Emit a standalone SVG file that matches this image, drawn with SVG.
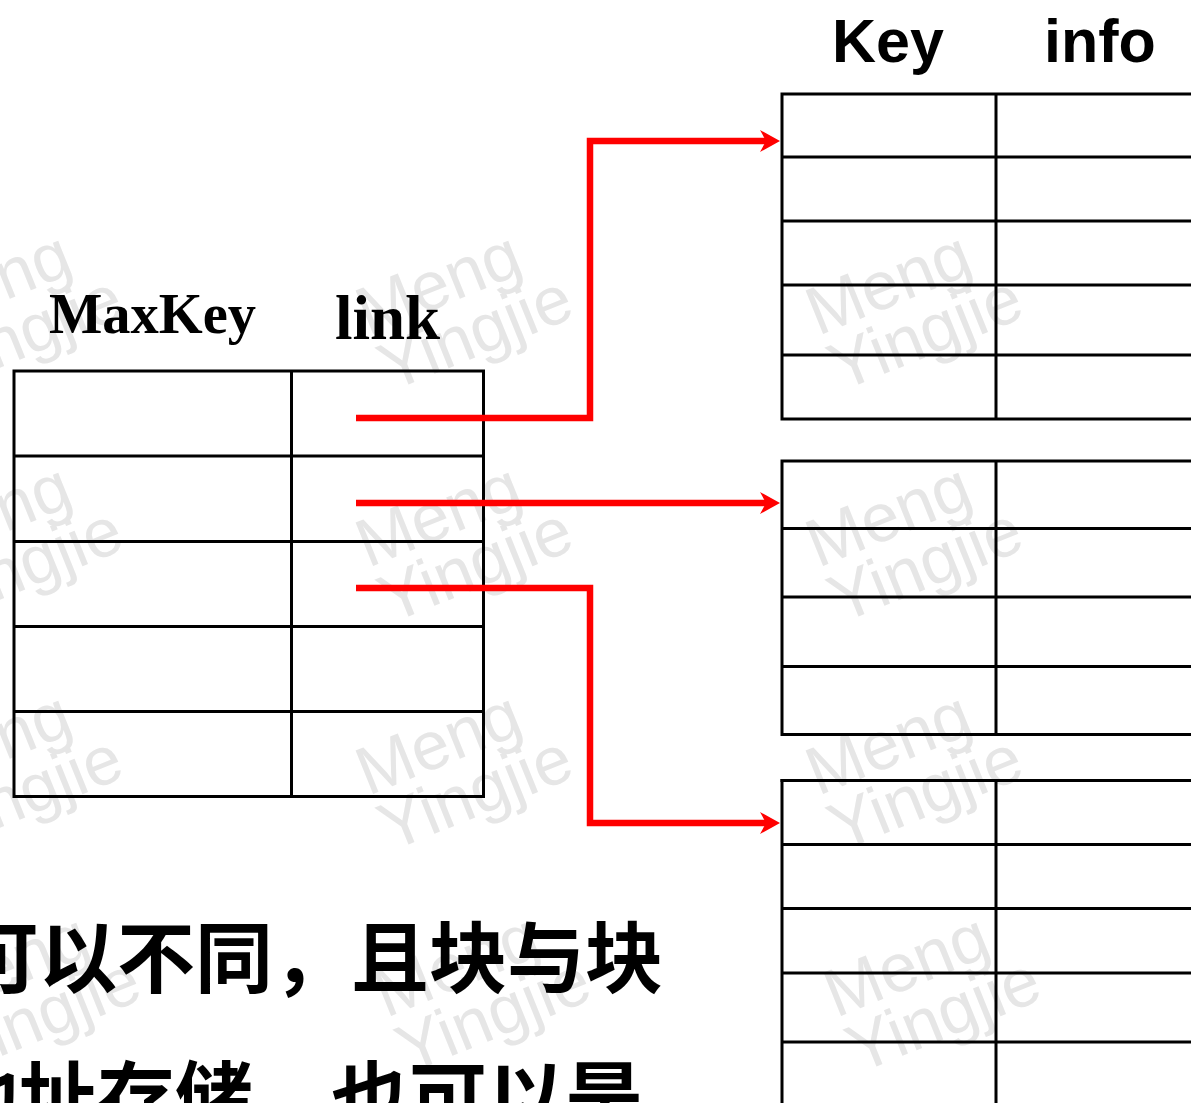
<svg xmlns="http://www.w3.org/2000/svg" width="1191" height="1103" viewBox="0 0 1191 1103">
<style>
.wm{font-family:"Liberation Sans",Arial,sans-serif;font-size:68px;fill:#e6e6e6}
.tb{fill:none;stroke:#000;stroke-width:3}
.ln{stroke:#000;stroke-width:3}
.hdr-serif{font-family:"Liberation Serif","Times New Roman",serif;font-weight:bold;fill:#000}
.hdr-sans{font-family:"Liberation Sans",Arial,sans-serif;font-weight:bold;font-size:61px;fill:#000}
.cjk{font-family:"Noto Sans CJK SC","Noto Sans CJK TC",sans-serif;font-weight:bold;font-size:78px;fill:#000}
.conn{fill:none;stroke:#ff0000;stroke-width:6.5;stroke-linejoin:miter}
</style>
<defs>
<marker id="arrow" viewBox="0 0 20 22" markerWidth="20" markerHeight="22" markerUnits="userSpaceOnUse" refX="10" refY="11" orient="auto">
<path d="M0,0 L20,11 L0,22 L6,11 Z" fill="#ff0000"/>
</marker>
<g id="wmark"><text class="wm" x="0" y="0">Meng</text><text class="wm" x="0" y="60">Yingjie</text></g>
</defs>
<rect width="1191" height="1103" fill="#fff"/>
<g id="watermarks">
<use href="#wmark" transform="translate(-82,336) rotate(-22)"/>
<use href="#wmark" transform="translate(368,336) rotate(-22)"/>
<use href="#wmark" transform="translate(818,336) rotate(-22)"/>
<use href="#wmark" transform="translate(-82,568) rotate(-22)"/>
<use href="#wmark" transform="translate(368,568) rotate(-22)"/>
<use href="#wmark" transform="translate(818,568) rotate(-22)"/>
<use href="#wmark" transform="translate(-82,796) rotate(-22)"/>
<use href="#wmark" transform="translate(368,796) rotate(-22)"/>
<use href="#wmark" transform="translate(818,796) rotate(-22)"/>
<use href="#wmark" transform="translate(-64,1018) rotate(-22)"/>
<use href="#wmark" transform="translate(386,1018) rotate(-22)"/>
<use href="#wmark" transform="translate(836,1018) rotate(-22)"/>
</g>
<g id="index-table">
<text class="hdr-serif" x="49" y="333" font-size="56.5">MaxKey</text>
<text class="hdr-serif" x="335" y="339" font-size="63">link</text>
<rect class="tb" x="14" y="371" width="469.5" height="425.5"/>
<line class="ln" x1="291.5" y1="371" x2="291.5" y2="796.5"/>
<line class="ln" x1="14" y1="456" x2="483.5" y2="456"/>
<line class="ln" x1="14" y1="541.5" x2="483.5" y2="541.5"/>
<line class="ln" x1="14" y1="626.5" x2="483.5" y2="626.5"/>
<line class="ln" x1="14" y1="711.5" x2="483.5" y2="711.5"/>
</g>
<g id="block-header">
<text class="hdr-sans" x="832" y="62">Key</text>
<text class="hdr-sans" x="1044" y="62">info</text>
</g>
<g id="block1">
<rect class="tb" x="782" y="94" width="420" height="325"/>
<line class="ln" x1="996" y1="94" x2="996" y2="419"/>
<line class="ln" x1="782" y1="157" x2="1195" y2="157"/>
<line class="ln" x1="782" y1="221" x2="1195" y2="221"/>
<line class="ln" x1="782" y1="285" x2="1195" y2="285"/>
<line class="ln" x1="782" y1="355" x2="1195" y2="355"/>
</g>
<g id="block2">
<rect class="tb" x="782" y="461" width="420" height="273.5"/>
<line class="ln" x1="996" y1="461" x2="996" y2="734.5"/>
<line class="ln" x1="782" y1="528.5" x2="1195" y2="528.5"/>
<line class="ln" x1="782" y1="597" x2="1195" y2="597"/>
<line class="ln" x1="782" y1="666.5" x2="1195" y2="666.5"/>
</g>
<g id="block3">
<line class="ln" x1="780.5" y1="780.5" x2="1195" y2="780.5"/>
<line class="ln" x1="782" y1="779" x2="782" y2="1110"/>
<line class="ln" x1="996" y1="780.5" x2="996" y2="1110"/>
<line class="ln" x1="782" y1="844.5" x2="1195" y2="844.5"/>
<line class="ln" x1="782" y1="908.5" x2="1195" y2="908.5"/>
<line class="ln" x1="782" y1="973" x2="1195" y2="973"/>
<line class="ln" x1="782" y1="1042" x2="1195" y2="1042"/>
</g>
<g id="connectors">
<path class="conn" d="M356,418 H590 V141 H770" marker-end="url(#arrow)"/>
<path class="conn" d="M356,503 H770" marker-end="url(#arrow)"/>
<path class="conn" d="M356,588 H590 V823 H770" marker-end="url(#arrow)"/>
</g>
<g id="caption">
<text class="cjk" x="-39" y="987">可以不同，且块与块</text>
<text class="cjk" x="-59" y="1127">地址存储，也可以是</text>
</g>
</svg>
